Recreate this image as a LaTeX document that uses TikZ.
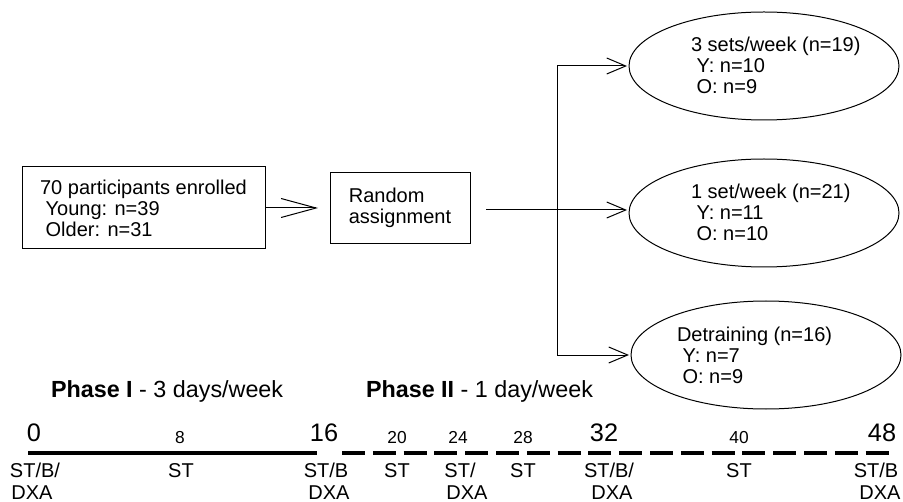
\documentclass[tikz,border=0pt]{standalone}
\usepackage{fontspec}
\setmainfont{Liberation Sans}
\usetikzlibrary{arrows.meta,shapes.geometric}
\begin{document}
\begin{tikzpicture}[x=0.75pt,y=-0.75pt,
  every node/.style={inner sep=0pt, outer sep=0pt},
  txt/.style={font=\fontsize{15}{15.75}\selectfont, align=left},
  boxnode/.style={draw, line width=0.75pt, txt},
  grp/.style={draw, ellipse, line width=0.75pt, minimum width=202.5pt, minimum height=81pt},
  conn/.style={line width=0.75pt},
  bigarrow/.style={conn, -{Straight Barb[length=26.25pt,width=14.25pt]}},
  smallarrow/.style={conn, -{Straight Barb[length=14.25pt,width=12pt]}},
  tl/.style={line width=3.2pt},
  bignum/.style={font=\fontsize{19}{22}\selectfont, anchor=base},
  smallnum/.style={font=\fontsize{13}{15}\selectfont, anchor=base},
  lab/.style={font=\fontsize{15}{18}\selectfont, anchor=base},
  phase/.style={font=\fontsize{17.5}{20}\selectfont, anchor=base west}
]
\useasboundingbox (0,0) rectangle (903,502);

% boxes
\node[boxnode, minimum width=182.25pt, minimum height=61.5pt] (b1) at (143.5,208)
  {70 participants enrolled\\\ Young: n=39\\\ Older: n=31};
\node[boxnode, minimum width=105pt, minimum height=53.25pt] (b2) at (400,208)
  {Random\\assignment};

% ellipses
\node[grp] (e1) at (764,66) {};
\node[grp] (e2) at (764,213) {};
\node[grp] (e3) at (766,355) {};
\node[txt, anchor=west] (e1t) at (691,65) {3 sets/week (n=19)\\\ Y: n=10\\\ O: n=9};
\node[txt, anchor=west] (e2t) at (691,212) {1 set/week (n=21)\\\ Y: n=11\\\ O: n=10};
\node[txt, anchor=west] (e3t) at (677,355) {Detraining (n=16)\\\ Y: n=7\\\ O: n=9};

% connectors
\draw[bigarrow, shorten >=9pt] (b1) -- (b2);
\coordinate (s) at (486,210);
\coordinate (fork) at (557,210);
\draw[conn] (s) -- (fork);
\draw[smallarrow, shorten >=1.5pt] (fork) |- (e1);
\draw[smallarrow, shorten >=1.5pt] (fork) -- (fork -| e2.west);
\draw[smallarrow, shorten >=1.5pt] (fork) |- (e3);

% phases
\node[phase] (p1) at (51,397) {\textbf{Phase I} - 3 days/week};
\node[phase] (p2) at (366,397) {\textbf{Phase II} - 1 day/week};

% timeline
\draw[tl] (28,453) -- (317,453);
\draw[tl, dash pattern=on 17.25pt off 5.85pt] (342,453) -- (891,453);

% numbers
\node[bignum] (n0) at (34,441) {0};
\node[smallnum] (n8) at (180,443) {8};
\node[bignum] (n16) at (324,441) {16};
\node[smallnum] (n20) at (397,443) {20};
\node[smallnum] (n24) at (458,443) {24};
\node[smallnum] (n28) at (523,443) {28};
\node[bignum] (n32) at (604,441) {32};
\node[smallnum] (n40) at (739,443) {40};
\node[bignum] (n48) at (882,441) {48};

% labels
\node[lab] (l0a) at (35,477) {ST/B/};
\node[lab] (l0b) at (32,499) {DXA};
\node[lab] (l8a) at (181,477) {ST};
\node[lab] (l16a) at (326,477) {ST/B};
\node[lab] (l16b) at (329,499) {DXA};
\node[lab] (l20a) at (397,477) {ST};
\node[lab] (l24a) at (460,477) {ST/};
\node[lab] (l24b) at (467,499) {DXA};
\node[lab] (l28a) at (523,477) {ST};
\node[lab] (l32a) at (609,477) {ST/B/};
\node[lab] (l32b) at (612,499) {DXA};
\node[lab] (l40a) at (739,477) {ST};
\node[lab] (l48a) at (876,477) {ST/B};
\node[lab] (l48b) at (880,499) {DXA};
\end{tikzpicture}
\end{document}
